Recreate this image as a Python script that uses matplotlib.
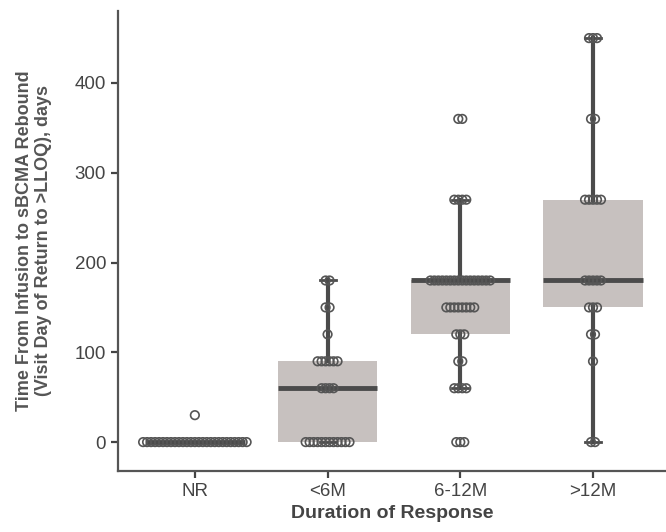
import numpy as np
import matplotlib
matplotlib.use("Agg")
import matplotlib.pyplot as plt

plt.rcParams['font.family'] = ['Liberation Sans', 'DejaVu Sans']

categories = ["NR", "<6M", "6-12M", ">12M"]

# (value, count) pairs
nr_vals = [0, 30]
nr_counts = [27, 1]
lt6_vals = [0, 60, 90, 120, 150, 180]
lt6_counts = [12, 4, 6, 1, 2, 2]
m6_12_vals = [0, 60, 90, 120, 150, 180, 270, 360]
m6_12_counts = [3, 4, 2, 3, 8, 16, 4, 2]
gt12_vals = [0, 90, 120, 150, 180, 270, 360, 450]
gt12_counts = [2, 1, 2, 3, 5, 5, 2, 3]

groups = [(nr_vals, nr_counts), (lt6_vals, lt6_counts),
          (m6_12_vals, m6_12_counts), (gt12_vals, gt12_counts)]

DARK = "#4b4b4b"
BOXFILL = "#c7c1bf"
STEP = 0.03

fig = plt.figure(figsize=(6.66, 5.32), dpi=100)
ax = fig.add_axes([0.177, 0.115, 0.823, 0.864])

data = [np.repeat(v, c) for v, c in groups]
ax.boxplot(data, positions=range(4), widths=0.75, patch_artist=True,
           showfliers=False, whis=1.5,
           boxprops=dict(facecolor=BOXFILL, edgecolor="none"),
           medianprops=dict(color=DARK, linewidth=3.5, solid_capstyle="butt"),
           whiskerprops=dict(color=DARK, linewidth=3),
           capprops=dict(color=DARK, linewidth=2),
           capwidths=0.12, zorder=1)

for i, (vals, counts) in enumerate(groups):
    for v, c in zip(vals, counts):
        offs = (np.arange(c) - (c - 1) / 2) * STEP
        ax.scatter(i + offs, np.full(c, v), s=38, facecolors="none",
                   edgecolors="#555555", linewidths=1.2, zorder=3)

ax.set_xlim(-0.58, 3.55)
ax.set_ylim(-32, 480)
ax.set_xticks(range(4))
ax.set_xticklabels(categories)
ax.set_yticks([0, 100, 200, 300, 400])

for s in ["top", "right"]:
    ax.spines[s].set_visible(False)
for s in ["left", "bottom"]:
    ax.spines[s].set_color("#555555")
    ax.spines[s].set_linewidth(1.6)
ax.tick_params(colors="#444444", labelcolor="#444444", labelsize=13.5,
               width=1.6, length=5)

ax.set_xlabel("Duration of Response", fontsize=14, fontweight="bold",
              color="#444444", labelpad=4)
ax.set_ylabel("Time From Infusion to sBCMA Rebound\n(Visit Day of Return to >LLOQ), days",
              fontsize=13, fontweight="bold", color="#555555", labelpad=16)

fig.savefig("out.png", dpi=100)
